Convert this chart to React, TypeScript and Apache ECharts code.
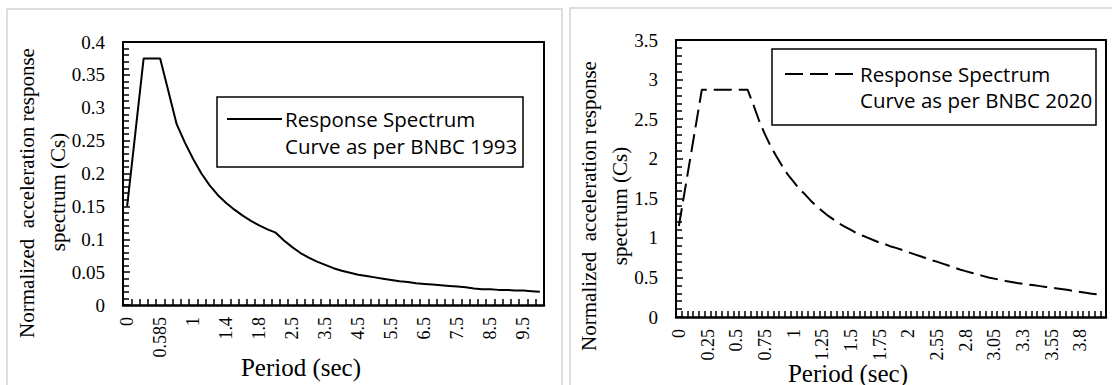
import React, { useEffect, useRef } from "react";
import * as echarts from "echarts";

// ---- BNBC 1993 (left panel) ----
const periods1993: string[] = [
  "0", "0.1", "0.2", "0.4", "0.585", "0.7", "0.8", "0.9",
  "1", "1.1", "1.2", "1.3", "1.4", "1.5", "1.6", "1.7", "1.8", "1.9", "2",
  "2.25", "2.5", "2.75", "3", "3.25", "3.5", "3.75", "4", "4.25", "4.5", "4.75",
  "5", "5.25", "5.5", "5.75", "6", "6.25", "6.5", "6.75", "7", "7.25", "7.5",
  "7.75", "8", "8.25", "8.5", "8.75", "9", "9.25", "9.5", "9.75", "10",
];
const cs1993: number[] = [
  0.15, 0.262, 0.375, 0.375, 0.375, 0.325, 0.275, 0.247,
  0.222, 0.2, 0.182, 0.167, 0.155, 0.145, 0.136, 0.128, 0.121, 0.115, 0.11,
  0.098, 0.088, 0.079, 0.072, 0.066, 0.061, 0.056, 0.052, 0.049, 0.046, 0.044,
  0.042, 0.04, 0.038, 0.036, 0.035, 0.033, 0.032, 0.031, 0.03, 0.029, 0.028,
  0.027, 0.025, 0.024, 0.024, 0.023, 0.023, 0.022, 0.022, 0.021, 0.02,
];

// ---- BNBC 2020 (right panel) ----
const periods2020: string[] = [
  "0", "0.05", "0.1", "0.15", "0.2", "0.25", "0.3", "0.35", "0.4", "0.45",
  "0.5", "0.55", "0.6", "0.65", "0.7", "0.75", "0.8", "0.85", "0.9", "0.95",
  "1", "1.05", "1.1", "1.15", "1.2", "1.25", "1.3", "1.35", "1.4", "1.45",
  "1.5", "1.55", "1.6", "1.65", "1.7", "1.75", "1.8", "1.85", "1.9", "1.95",
  "2", "2.1", "2.2", "2.3", "2.4",
  "2.55", "2.6", "2.65", "2.7", "2.75", "2.8", "2.85", "2.9", "2.95", "3",
  "3.05", "3.1", "3.15", "3.2", "3.25", "3.3", "3.35", "3.4", "3.45", "3.5",
  "3.55", "3.6", "3.65", "3.7", "3.75", "3.8", "3.85", "3.9", "3.95", "4",
];
const cs2020: number[] = [
  1.15, 1.58, 2.01, 2.44, 2.87, 2.87, 2.87, 2.87, 2.87, 2.87,
  2.87, 2.87, 2.87, 2.68, 2.48, 2.31, 2.16, 2.03, 1.91, 1.8,
  1.71, 1.62, 1.55, 1.47, 1.4, 1.34, 1.28, 1.23, 1.18, 1.14,
  1.1, 1.06, 1.03, 1.0, 0.97, 0.94, 0.92, 0.89, 0.87, 0.845,
  0.82, 0.795, 0.77, 0.745, 0.72,
  0.7, 0.675, 0.65, 0.625, 0.6, 0.58, 0.56, 0.54, 0.52, 0.5,
  0.485, 0.47, 0.455, 0.443, 0.43, 0.42, 0.41, 0.4, 0.39, 0.38,
  0.37, 0.36, 0.35, 0.34, 0.327, 0.316, 0.305, 0.295, 0.285, 0.274,
];

const legend1993 = ["Response Spectrum", "Curve as per BNBC 1993"];
const legend2020 = ["Response Spectrum", "Curve as per BNBC 2020"];
const yTitle = ["Normalized  acceleration response", "spectrum (Cs)"];
const xTitle = "Period (sec)";

const SERIF = '"Liberation Serif", "Times New Roman", serif';
const SANS = '"Open Sans", "Noto Sans", sans-serif';
const TICK = "#000";

function txt(text: string, x: number, y: number, size: number, family: string, opts: any = {}) {
  return {
    type: "text",
    x,
    y,
    rotation: opts.rotation || 0,
    z: 20,
    style: {
      text,
      fill: "#000",
      fontSize: size,
      fontFamily: family,
      align: opts.align || "center",
      textAlign: opts.align || "center",
      verticalAlign: "middle",
      textVerticalAlign: "middle",
    },
  };
}

export default function App() {
  const ref = useRef<HTMLDivElement>(null);

  useEffect(() => {
    if (!ref.current) return;
    const chart = echarts.init(ref.current, undefined, { renderer: "svg" });

    const xAxisBase = (gridIndex: number, data: string[], labelInterval: number) => ({
      type: "category",
      gridIndex,
      data,
      boundaryGap: true,
      axisLine: { show: true, lineStyle: { color: "#000", width: 2.5 } },
      axisTick: { show: true, inside: true, interval: 0, length: 6, lineStyle: { color: TICK, width: 1.5 } },
      axisLabel: { interval: labelInterval, rotate: 90, color: "#000", fontFamily: SERIF, fontSize: 18, margin: 12 },
      splitLine: { show: false },
    });
    // top edge of the plot frame
    const xAxisFrame = (gridIndex: number, data: string[]) => ({
      type: "category",
      gridIndex,
      data,
      position: "top",
      axisLine: { show: true, onZero: false, lineStyle: { color: "#000", width: 2 } },
      axisTick: { show: false },
      axisLabel: { show: false },
      splitLine: { show: false },
    });
    const yAxisBase = (gridIndex: number, max: number, interval: number) => ({
      type: "value",
      gridIndex,
      min: 0,
      max,
      interval,
      axisLine: { show: true, lineStyle: { color: "#000", width: 2 } },
      axisTick: { show: true, inside: true, length: 7, lineStyle: { color: TICK, width: 1.5 } },
      minorTick: { show: true, splitNumber: 5, length: 6, lineStyle: { color: TICK, width: 1.5 } },
      splitLine: { show: false },
      axisLabel: { color: "#000", fontFamily: SERIF, fontSize: 19, margin: 18 },
    });
    // right edge of the plot frame
    const yAxisFrame = (gridIndex: number, max: number, interval: number) => ({
      type: "value",
      gridIndex,
      min: 0,
      max,
      interval,
      position: "right",
      axisLine: { show: true, onZero: false, lineStyle: { color: "#000", width: 2 } },
      axisTick: { show: false },
      axisLabel: { show: false },
      splitLine: { show: false },
    });

    chart.setOption({
      animation: false,
      grid: [
        { left: 123, top: 42, width: 421, height: 263 },
        { left: 676, top: 40, width: 430, height: 277 },
      ],
      xAxis: [xAxisBase(0, periods1993, 3), xAxisBase(1, periods2020, 4), xAxisFrame(0, periods1993), xAxisFrame(1, periods2020)],
      yAxis: [yAxisBase(0, 0.4, 0.05), yAxisBase(1, 3.5, 0.5), yAxisFrame(0, 0.4, 0.05), yAxisFrame(1, 3.5, 0.5)],
      series: [
        { name: "BNBC 1993", type: "line", xAxisIndex: 0, yAxisIndex: 0, data: cs1993, symbol: "none", lineStyle: { color: "#000", width: 2 } },
        { name: "BNBC 2020", type: "line", xAxisIndex: 1, yAxisIndex: 1, data: cs2020, symbol: "none", lineStyle: { color: "#000", width: 2, type: [18, 7] } },
      ],
      graphic: [
        // light grey panel frames
        { type: "polyline", z: -1, shape: { points: [[7, 400], [7, 9], [562, 9], [562, 400]] }, style: { fill: null, stroke: "#d4d4d4", lineWidth: 1.5 } },
        { type: "polyline", z: -1, shape: { points: [[570, 400], [570, 8], [1120, 8]] }, style: { fill: null, stroke: "#d4d4d4", lineWidth: 1.5 } },
        // left legend
        { type: "rect", z: 15, shape: { x: 217, y: 97, width: 306, height: 70 }, style: { fill: "#fff", stroke: "#000", lineWidth: 1.5 } },
        { type: "line", z: 16, shape: { x1: 227, y1: 119, x2: 282, y2: 119 }, style: { stroke: "#000", lineWidth: 2 } },
        txt(legend1993[0], 285, 119, 20.5, SANS, { align: "left" }),
        txt(legend1993[1], 285, 146, 20.5, SANS, { align: "left" }),
        // right legend
        { type: "rect", z: 15, shape: { x: 772, y: 49, width: 324, height: 76 }, style: { fill: "#fff", stroke: "#000", lineWidth: 1.5 } },
        { type: "line", z: 16, shape: { x1: 785, y1: 74, x2: 853, y2: 74 }, style: { stroke: "#000", lineWidth: 2, lineDash: [18, 7] } },
        txt(legend2020[0], 860, 74, 20.5, SANS, { align: "left" }),
        txt(legend2020[1], 860, 100, 20.5, SANS, { align: "left" }),
        // axis titles
        txt(yTitle[0], 27, 193, 21, SERIF, { rotation: Math.PI / 2 }),
        txt(yTitle[1], 58, 192, 21, SERIF, { rotation: Math.PI / 2 }),
        txt(xTitle, 301, 367, 25, SERIF),
        txt(yTitle[0], 589, 206, 21, SERIF, { rotation: Math.PI / 2 }),
        txt(yTitle[1], 620, 206, 21, SERIF, { rotation: Math.PI / 2 }),
        txt(xTitle, 848, 373, 25, SERIF),
      ],
    });

    return () => chart.dispose();
  }, []);

  return <div ref={ref} style={{ position: "absolute", left: 0, top: 0, width: 1112, height: 385, background: "#fff" }} />;
}
